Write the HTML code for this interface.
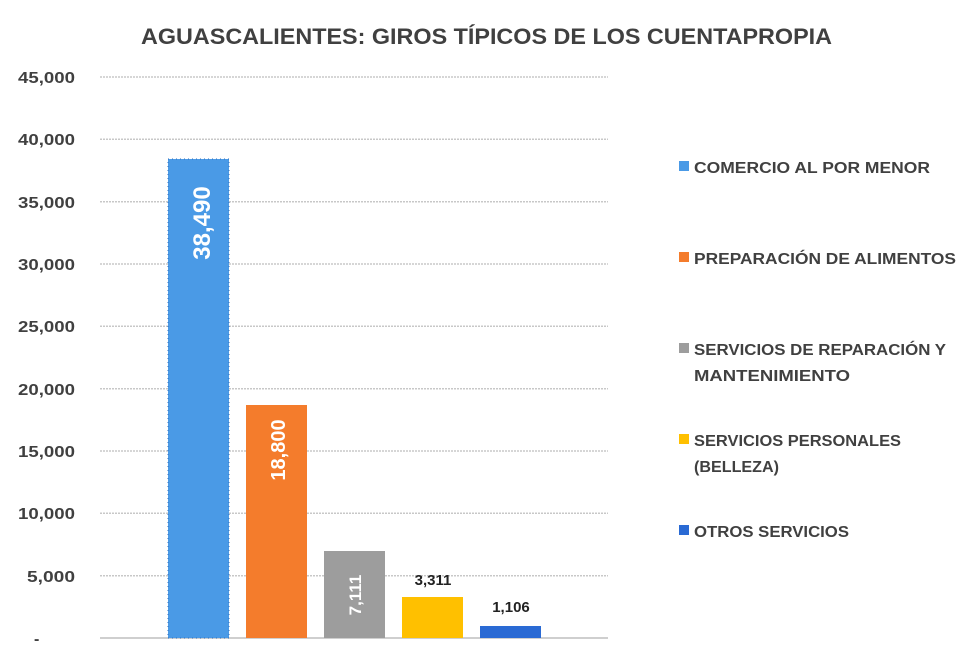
<!DOCTYPE html>
<html><head><meta charset="utf-8"><style>
html,body{margin:0;padding:0;background:#fff;}
text{font-family:"Liberation Sans",sans-serif;fill:#404040;}
</style></head><body>
<svg width="974" height="662" viewBox="0 0 974 662" xmlns="http://www.w3.org/2000/svg">
<rect width="974" height="662" fill="#fff"/>
<text x="141" y="44" font-size="22" font-weight="bold" textLength="691" lengthAdjust="spacingAndGlyphs">AGUASCALIENTES: GIROS TÍPICOS DE LOS CUENTAPROPIA</text>
<g stroke="#c8c8c8" stroke-width="1.5" stroke-dasharray="2,1">
<line x1="100" x2="608" y1="77" y2="77"/>
<line x1="100" x2="608" y1="139.3" y2="139.3"/>
<line x1="100" x2="608" y1="201.7" y2="201.7"/>
<line x1="100" x2="608" y1="264" y2="264"/>
<line x1="100" x2="608" y1="326.3" y2="326.3"/>
<line x1="100" x2="608" y1="388.7" y2="388.7"/>
<line x1="100" x2="608" y1="451" y2="451"/>
<line x1="100" x2="608" y1="513.3" y2="513.3"/>
<line x1="100" x2="608" y1="575.7" y2="575.7"/>
</g>
<line x1="100" x2="608" y1="638" y2="638" stroke="#bfbfbf" stroke-width="1.5"/>
<g font-size="16" font-weight="bold">
<text x="18" y="83" textLength="57" lengthAdjust="spacingAndGlyphs">45,000</text>
<text x="18" y="145" textLength="57" lengthAdjust="spacingAndGlyphs">40,000</text>
<text x="18" y="208" textLength="57" lengthAdjust="spacingAndGlyphs">35,000</text>
<text x="18" y="270" textLength="57" lengthAdjust="spacingAndGlyphs">30,000</text>
<text x="18" y="332" textLength="57" lengthAdjust="spacingAndGlyphs">25,000</text>
<text x="18" y="395" textLength="57" lengthAdjust="spacingAndGlyphs">20,000</text>
<text x="18" y="457" textLength="57" lengthAdjust="spacingAndGlyphs">15,000</text>
<text x="18" y="519" textLength="57" lengthAdjust="spacingAndGlyphs">10,000</text>
<text x="27" y="582" textLength="48" lengthAdjust="spacingAndGlyphs">5,000</text>
<text x="34" y="644">-</text>
</g>
<rect x="168" y="159" width="61" height="479" fill="#4a9ae6" stroke="#2f6fbf" stroke-width="1" stroke-dasharray="1,3"/>
<rect x="246" y="405" width="61" height="233" fill="#f47c2c"/>
<rect x="324" y="551" width="61" height="87" fill="#9d9d9d"/>
<rect x="402" y="597" width="61" height="41" fill="#ffc000"/>
<rect x="480" y="626" width="61" height="12" fill="#2a6ad4"/>
<text transform="translate(210,223) rotate(-90)" text-anchor="middle" font-size="24" font-weight="bold" style="fill:#fff">38,490</text>
<text transform="translate(285,450) rotate(-90)" text-anchor="middle" font-size="20" font-weight="bold" style="fill:#fff">18,800</text>
<text transform="translate(361,595) rotate(-90)" text-anchor="middle" font-size="17" font-weight="bold" style="fill:#fff">7,111</text>
<text x="433" y="585" text-anchor="middle" font-size="15" font-weight="bold" style="fill:#222">3,311</text>
<text x="511" y="612" text-anchor="middle" font-size="15" font-weight="bold" style="fill:#222">1,106</text>
<g font-size="16" font-weight="bold">
<rect x="679" y="161" width="10" height="10" fill="#4a9ae6"/>
<text x="694" y="173" textLength="236" lengthAdjust="spacingAndGlyphs">COMERCIO AL POR MENOR</text>
<rect x="679" y="252" width="10" height="10" fill="#f47c2c"/>
<text x="694" y="264" textLength="262" lengthAdjust="spacingAndGlyphs">PREPARACIÓN DE ALIMENTOS</text>
<rect x="679" y="343" width="10" height="10" fill="#9d9d9d"/>
<text x="694" y="355" textLength="252" lengthAdjust="spacingAndGlyphs">SERVICIOS DE REPARACIÓN Y</text>
<text x="694" y="381" textLength="156" lengthAdjust="spacingAndGlyphs">MANTENIMIENTO</text>
<rect x="679" y="434" width="10" height="10" fill="#ffc000"/>
<text x="694" y="446" textLength="207" lengthAdjust="spacingAndGlyphs">SERVICIOS PERSONALES</text>
<text x="694" y="472" textLength="85" lengthAdjust="spacingAndGlyphs">(BELLEZA)</text>
<rect x="679" y="525" width="10" height="10" fill="#2a6ad4"/>
<text x="694" y="537" textLength="155" lengthAdjust="spacingAndGlyphs">OTROS SERVICIOS</text>
</g>
</svg>
</body></html>
